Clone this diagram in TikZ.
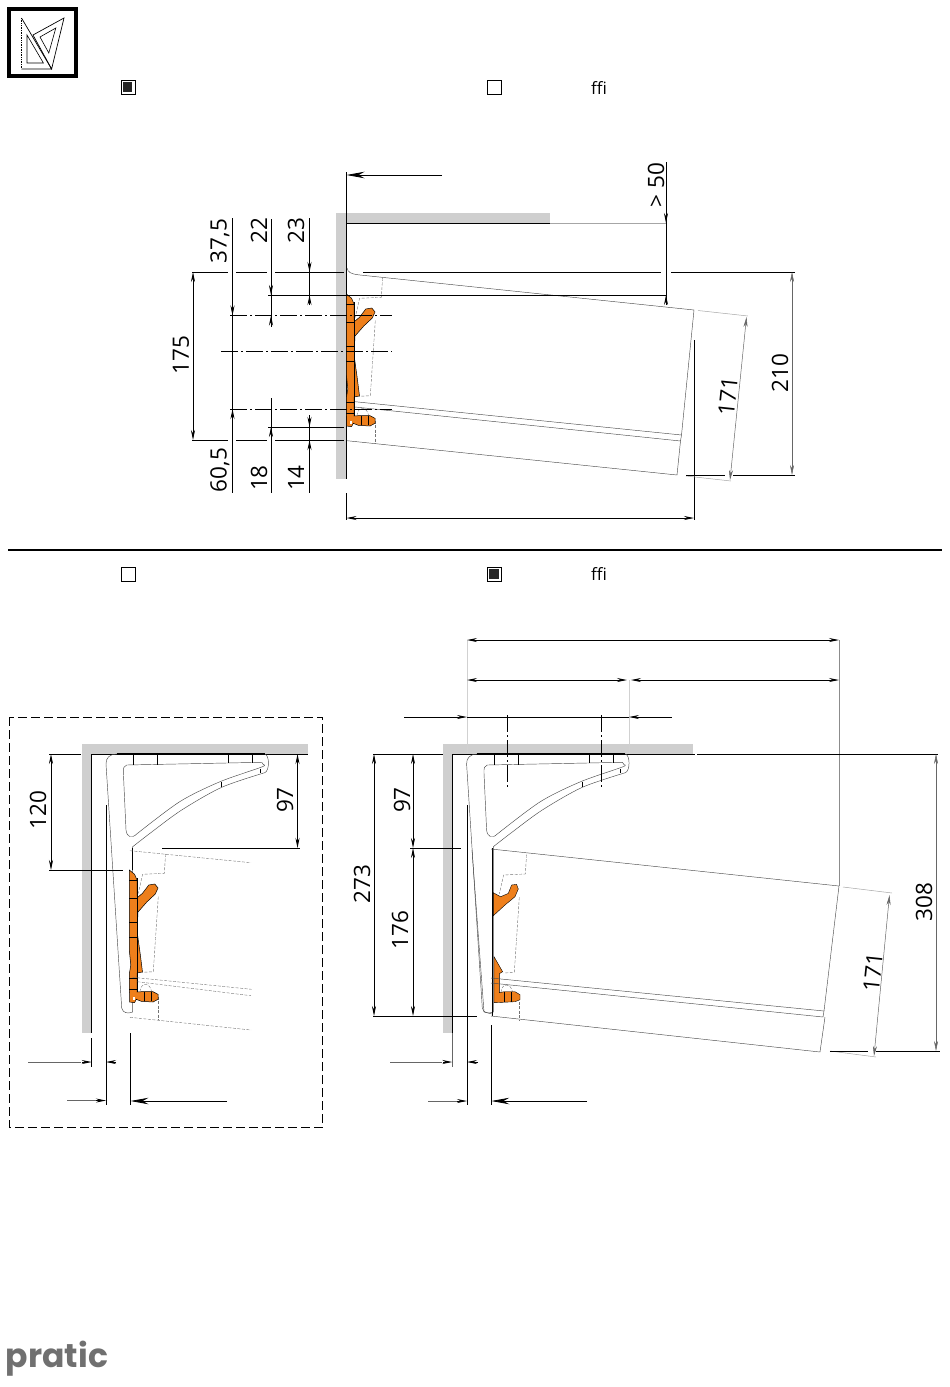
\documentclass[tikz,border=0pt]{standalone}
\usepackage{fontspec}
\setmainfont{Open Sans}
\newfontfamily\logofont{Poppins}
\usepackage{xcolor}
\usepackage{tikz}
\usetikzlibrary{arrows.meta}
\definecolor{wallgray}{HTML}{CFCFCF}
\definecolor{cliporange}{HTML}{EE7F1B}
\definecolor{logogray}{HTML}{707070}
\tikzset{
	thinline/.style={line width=.45pt,draw=black!70},
	faintline/.style={line width=.5pt,draw=black!35},
	dimline/.style={line width=.8pt,draw=black},
	dashline/.style={line width=.4pt,draw=black!55,dash pattern=on 3pt off 1.5pt},
	centerline/.style={line width=.8pt,draw=black,dash pattern=on 17pt off 3pt on 2pt off 3pt},
	smalltips/.style={tips=true,{Stealth[length=10pt,width=4pt]}-{Stealth[length=10pt,width=4pt]}},
	endtip/.style={-{Stealth[length=10pt,width=4pt]},dimline},
	bigtip/.style={-{Stealth[length=18pt,width=6.5pt]},dimline},
	dimlabel/.style={font=\fontsize{22.5}{22.5}\selectfont,rotate=90,inner sep=0pt},
	wall/.style={fill=wallgray,draw=none},
	boxmark/.pic={\draw[line width=.8pt,fill=white] (0,0) rectangle (14,14);},
	bracket/.pic={
		\draw[thinline] (41,92.7) -- (41,258) .. controls (36,260) and (31,259) .. (30,254)
			-- (14.3,10) .. controls (14,4) and (18,0) .. (25,0) -- (173,0)
			.. controls (178,1) and (178,17) .. (173,18.7);
		\draw[thinline] plot[smooth] coordinates {(173,18.7) (130,33.3) (90,56) (60,78) (41,92.7)};
		\draw[thinline] plot[smooth] coordinates {(170,8.3) (171.5,10.5) (170,13) (128.3,27.7) (88,47.7) (45,80)};
		\draw[thinline] (45,80) .. controls (40,85) and (35,83) .. (34.3,76) -- (31.7,19.3)
			.. controls (31.5,14) and (32,11.5) .. (35,11) -- (170,8.3);
		\draw[line width=1.4pt] (25,0) -- (173,0);
		\foreach \tx/\ty in {41.7/11,65.7/10.5,136.7/9,160.7/8.5}
			\draw[dimline] (\tx,0) -- (\tx,\ty);
		\draw[dimline] (168.3,14.6) -- (168.3,19);
		\draw[dimline] (130,27.7) -- (130,33.3);
	},
	innerdash/.pic={
		\draw[dashline] (36.3,-16) -- (35,3.3) -- (13.3,4.3) -- (9,23.3);
		\draw[dashline] (29,26.7) -- (24,101.7) -- (13.3,102.3);
		\draw[dashline] (29,126.7) -- (29,149.3);
		\draw[dashline] (10.7,121.7) .. controls (11,112) and (21,112) .. (22.3,121.7);
	},
	fullclip/.pic={
		\draw[fill=cliporange,line width=.5pt] (0,0) -- (5.3,4.3) -- (7.7,10) -- (7.7,26) -- (8.7,27)
			-- (13,23.5) -- (19.5,15) -- (25.5,14) -- (28.7,18) -- (26,24) -- (17.5,32) -- (8.7,42)
			-- (8,56) -- (8,63) -- (10.8,83) -- (13.2,102) -- (7.7,103) -- (7.7,122) -- (12,121.7)
			-- (23.7,121.7) -- (28.7,124.3) -- (28.7,129.3) -- (23.7,132) -- (12,131.3) -- (7,129.3)
			-- (5.3,132.7) -- (.3,132) -- (0,104) -- (1.5,95) -- (0,80) -- cycle;
		\draw[line width=.7pt] (7.7,8) -- (7.7,122);
		\foreach \ty in {10,28,52,67,108,119}
			\draw[line width=.3pt] (0,\ty) -- (7.7,\ty);
		\foreach \tx in {14.7,22}
			\draw[line width=.6pt] (\tx,122) -- (\tx,131);
		\fill[white] (3.5,127) rectangle (6,130);
	},
	halfclip/.pic={
		\draw[fill=cliporange,line width=.4pt] (3,22) -- (10.3,26) -- (18,22.7) -- (21.3,14.3) -- (26.3,13.7)
			-- (28,18.3) -- (24.7,26) -- (14.7,34.3) -- (3,45) -- cycle;
		\draw[fill=cliporange,line width=.4pt] (3.7,86) -- (12.3,101) -- (9,103) -- (9,122) -- (13.7,121)
			-- (24.7,121) -- (29.7,124) -- (29.7,129) -- (24.7,131) -- (3.7,132) -- cycle;
		\foreach \tx in {14,21.3}
			\draw[line width=.6pt] (\tx,121) -- (\tx,131);
	}
}
\begin{document}
\begin{tikzpicture}[x=1pt,y=-1pt]
	\useasboundingbox (0,0) rectangle (950,1387);
	% sketch mark
	\draw[line width=4pt] (9,9) rectangle (76,76);
	\draw[line width=.7pt] (21.5,18) -- (51.6,69) -- (21.5,69);
	\draw[line width=.7pt,densely dotted] (21.5,18) -- (21.5,69);
	\draw[line width=.6pt] (27,35) -- (27,63) -- (43.4,63) -- cycle;
	\draw[line width=.7pt] (64,18) -- (51.6,69) -- (33,35) -- cycle;
	\draw[line width=.6pt] (55.8,28) -- (40,37) -- (48.8,53) -- cycle;
	\pic at (121,80) {boxmark};
	\fill[black!85] (123,82) rectangle (132,92);
	\pic at (487,80) {boxmark};
	\node[inner sep=0pt,font=\fontsize{17}{17}\selectfont] (ffitop) at (599,88) {ffi};
	\pic at (121,567) {boxmark};
	\pic at (487,567) {boxmark};
	\fill[black!85] (489,569) rectangle (499,579);
	\node[inner sep=0pt,font=\fontsize{17}{17}\selectfont] (ffibottom) at (599,574) {ffi};
	\draw[line width=1.6pt] (8,550) -- (942,550);

	% upper view
	\fill[wall] (336,213) rectangle (550,223);
	\fill[wall] (336,213) rectangle (347,479);
	\draw[dimline] (346.5,172) -- (346.5,479);
	\draw[dimline] (346.5,493) -- (346.5,520);
	\draw[dimline] (346.5,223) -- (550,223);
	\draw[faintline] (550,223) -- (667,223);
	\draw[bigtip] (442,175) -- (346.5,175);
	\draw[thinline] (347,268) .. controls (348,272) and (350,274) .. (360,275) -- (694,310) -- (681.5,435);
	\draw[thinline] (355,401.7) -- (681.5,435) -- (680.5,441) -- (355,407);
	\draw[thinline] (680.5,441) -- (677,475) -- (347,440.7);
	\pic at (346.3,294) {innerdash};
	\pic at (346.3,294) {fullclip};
	\foreach \ya/\xa/\xb in {272/192/228,272/236/267,272/275/344,272/363/661,272/671/795,
		295/268/667,427/268/344,440/192/228,440/236/267,440/275/344}
		\draw[dimline] (\xa,\ya) -- (\xb,\ya);
	\draw[centerline] (230,315.5) -- (392,315.5);
	\draw[centerline] (221,351) -- (392,351);
	\draw[centerline] (230,409) -- (392,409);
	\draw[dimline] (232.5,218) -- (232.5,493);
	\draw[dimline] (271,219) -- (271,327);
	\draw[dimline] (271,398) -- (271,493);
	\draw[dimline] (309.5,218) -- (309.5,305);
	\draw[dimline] (309.5,415) -- (309.5,493);
	\draw[dimline,smalltips] (193,272) -- (193,440);
	\foreach \xc/\ya/\yb in {232.5/305/315.5,271/285/295,309.5/262/272,666/213/223}
		\draw[endtip] (\xc,\ya) -- (\xc,\yb);
	\foreach \xc/\ya/\yb in {232.5/419/409,271/327/315.5,271/437/427,309.5/305/295,309.5/450/440,666/305/295}
		\draw[endtip] (\xc,\ya) -- (\xc,\yb);
	\draw[endtip] (309.5,417) -- (309.5,427);
	\draw[dimline] (666,162) -- (666,305);
	\draw[dimline] (694,340) -- (694,520);
	\draw[dimline,smalltips] (346.5,518) -- (694,518);
	\draw[faintline] (698,310.5) -- (748,316);
	\draw[faintline] (686,476) -- (731,481);
	\draw[faintline,draw=black!60,smalltips] (746.5,317) -- (730,480);
	\draw[dimline] (686,475) -- (725,475);
	\draw[dimline] (733,475) -- (795,475);
	\draw[faintline,draw=black!60,smalltips] (792,272) -- (792,475);
	\node[dimlabel] (upperfifty) at (656,185) {> 50};
	\node[dimlabel] (upperthirtyseven) at (220,241) {37,5};
	\node[dimlabel] (uppertwentytwo) at (259,231) {22};
	\node[dimlabel] (uppertwentythree) at (296,231) {23};
	\node[dimlabel] (upperonefive) at (181,355) {175};
	\node[dimlabel] (uppersixty) at (220,470) {60,5};
	\node[dimlabel] (uppereighteen) at (259,478) {18};
	\node[dimlabel] (upperfourteen) at (296,478) {14};
	\node[dimlabel,rotate=-6] (upperdepth) at (728,396) {171};
	\node[dimlabel] (upperheight) at (780,373) {210};

	% lower left view
	\draw[line width=.7pt,dash pattern=on 9pt off 4pt] (9.5,717) rectangle (322.5,1127.5);
	\fill[wall] (81.5,744) rectangle (308,754);
	\fill[wall] (81.5,744) rectangle (91.7,1033);
	\draw[dimline] (91.7,754) -- (91.7,1033);
	\draw[dimline] (91.7,1038) -- (91.7,1067);
	\draw[dimline] (91.7,754) -- (308,754);
	\pic at (91.7,754) {bracket};
	\draw[dimline] (132.7,848) -- (132.7,870);
	\pic at (129.3,870) {innerdash};
	\pic at (129.3,870) {fullclip};
	\draw[dashline] (130,850.7) -- (251,862.7);
	\draw[dashline] (132.7,977.3) -- (251.7,989.3);
	\draw[dashline] (137.3,981.7) -- (251,995.7);
	\draw[dashline] (130,1017.3) -- (251,1030);
	\draw[dimline] (49,754) -- (81,754);
	\draw[dimline] (49,870) -- (123,870);
	\draw[dimline,smalltips] (51,754) -- (51,870);
	\draw[dimline] (162,848) -- (300,848);
	\draw[dimline,smalltips] (297.5,754) -- (297.5,848);
	\draw[dimline] (106,805) -- (106,1105);
	\draw[dimline] (130.5,1033) -- (130.5,1105);
	\draw[faintline,draw=black!60] (28,1062) -- (81,1062);
	\draw[endtip] (82,1062) -- (91.7,1062);
	\draw[endtip] (116,1062) -- (106,1062);
	\draw[faintline,draw=black!60] (67,1100.5) -- (96,1100.5);
	\draw[endtip] (96,1100.5) -- (106,1100.5);
	\draw[bigtip] (227,1101) -- (130.5,1101);
	\node[dimlabel] (lefttwenty) at (38,810) {120};
	\node[dimlabel] (leftninety) at (285,800) {97};

	% lower right view
	\fill[wall] (443,744) rectangle (693,754);
	\fill[wall] (443,744) rectangle (452.3,1033);
	\draw[faintline,line width=1pt,draw=black!18] (467,640) -- (467,754);
	\draw[faintline,line width=1pt,draw=black!18] (629,680) -- (629,754);
	\draw[faintline,draw=black!45] (839,640) -- (839,886);
	\draw[dimline] (452.3,754) -- (452.3,1033);
	\draw[faintline,draw=black!60] (452.3,1033) -- (452.3,1067);
	\draw[dimline] (452.3,754) -- (695,754);
	\draw[dimline] (697,754) -- (938,754);
	\draw[dimline] (373,754) -- (443,754);
	\pic at (452.3,754) {bracket};
	\draw[thinline] (472,850) -- (484,1012) -- (492,1014);
	\pic at (490.3,870.7) {innerdash};
	\pic at (490.3,870.7) {halfclip};
	\draw[dimline] (492,848) -- (492,1016);
	\draw[thinline] (491,849) -- (839,886) -- (824,1011);
	\draw[thinline] (491,978) -- (824,1011) -- (823,1017) -- (491,983);
	\draw[thinline] (825,1017) -- (820,1052) -- (491,1016);
	\draw[dimline] (373,1016) -- (477,1016);
	\draw[dimline] (410,848) -- (461,848);
	\draw[dimline,smalltips] (374,754) -- (374,1016);
	\draw[dimline,smalltips] (413,754) -- (413,848);
	\draw[dimline,smalltips] (413,848) -- (413,1016);
	\draw[centerline] (507.5,715) -- (507.5,788);
	\draw[centerline] (601.3,715) -- (601.3,788);
	\draw[dimline] (404,717) -- (457,717);
	\draw[endtip] (457,717) -- (467,717);
	\draw[dimline] (467,717) -- (629,717);
	\draw[endtip] (639,717) -- (629,717);
	\draw[dimline] (639,717) -- (672,717);
	\draw[dimline,smalltips] (467,640) -- (839,640);
	\draw[dimline,smalltips] (467,680) -- (627,680);
	\draw[dimline,smalltips] (631,680) -- (839,680);
	\draw[dimline] (467,805) -- (467,1105);
	\draw[dimline] (491.3,1025) -- (491.3,1105);
	\draw[faintline,draw=black!60] (390,1062) -- (442,1062);
	\draw[endtip] (443,1062) -- (452.3,1062);
	\draw[endtip] (478,1062) -- (467,1062);
	\draw[faintline,draw=black!60] (428,1101) -- (457,1101);
	\draw[endtip] (457,1101) -- (467,1101);
	\draw[bigtip] (587,1101) -- (491.3,1101);
	\draw[faintline] (843,887) -- (892,893);
	\draw[faintline] (830,1051) -- (876,1057);
	\draw[faintline,draw=black!60,smalltips] (889.5,895) -- (874,1056);
	\draw[dimline] (830,1051) -- (868,1051);
	\draw[dimline] (876,1051) -- (940,1051);
	\draw[faintline,draw=black!60,smalltips] (936,754) -- (936,1051);
	\node[dimlabel] (rightninety) at (402,800) {97};
	\node[dimlabel] (righttotal) at (362,884) {273};
	\node[dimlabel] (rightlower) at (400,930) {176};
	\node[dimlabel,rotate=-6] (rightdepth) at (873,972) {171};
	\node[dimlabel] (rightheight) at (924,902) {308};

	% logo
	\node[inner sep=0pt,text=logogray,font=\logofont\bfseries\fontsize{33}{33}\selectfont] (praticlogo) at (57,1359) {pratic};
\end{tikzpicture}
\end{document}
